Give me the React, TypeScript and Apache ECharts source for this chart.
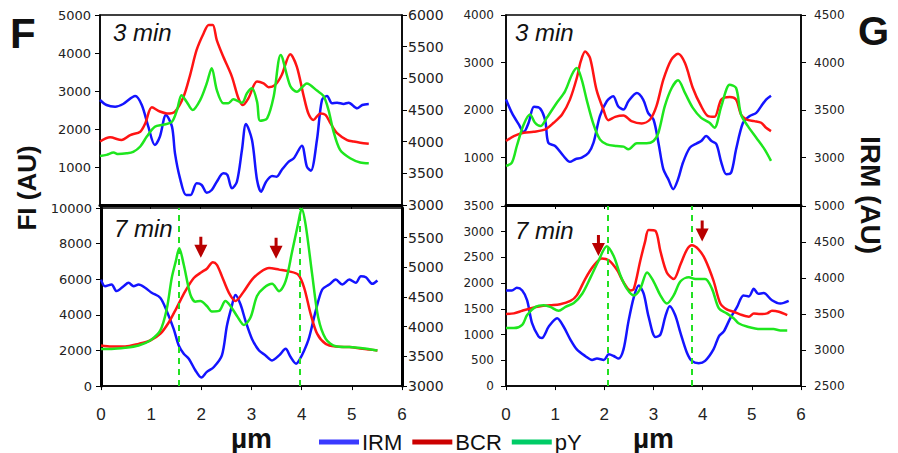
import React, { useEffect, useRef } from "react";
import * as echarts from "echarts";

// ---------- data (x in µm, y in AU) ----------
// Panel F, 3 min
const fTopBcr = [[0,1670],[0.2,1780],[0.43,1710],[0.6,1840],[0.8,1930],[0.9,2150],[1.03,2570],[1.19,2460],[1.33,2410],[1.49,2460],[1.66,2850],[1.79,3420],[1.92,4080],[2.06,4520],[2.16,4740],[2.24,4740],[2.32,4340],[2.45,3900],[2.62,3380],[2.75,2810],[2.84,2630],[2.95,2810],[3.12,3250],[3.25,3200],[3.35,3100],[3.48,3160],[3.61,3420],[3.78,3970],[3.91,3640],[4.05,2850],[4.14,2410],[4.24,2240],[4.38,2410],[4.48,2370],[4.58,2150],[4.71,1890],[4.91,1710],[5.04,1670],[5.17,1640],[5.34,1610]];
const fTopPy = [[0,1290],[0.13,1320],[0.27,1380],[0.36,1340],[0.53,1360],[0.66,1400],[0.8,1540],[0.93,1800],[1.09,2060],[1.26,2110],[1.43,2190],[1.53,2500],[1.62,2890],[1.72,2720],[1.84,2500],[1.99,2760],[2.12,3200],[2.22,3600],[2.32,3030],[2.45,2680],[2.55,2680],[2.65,2780],[2.82,2690],[2.92,2940],[3.02,3070],[3.12,2720],[3.18,2220],[3.32,2280],[3.45,2850],[3.59,3950],[3.78,3130],[3.91,2980],[4.11,3200],[4.31,3010],[4.44,2870],[4.54,2500],[4.64,1930],[4.77,1450],[4.97,1230],[5.17,1120],[5.34,1100]];
const fTopIrm = [[0,4658],[0.13,4579],[0.3,4553],[0.46,4595],[0.7,4721],[0.83,4579],[0.96,4237],[1.09,3947],[1.19,4079],[1.31,4421],[1.43,4237],[1.49,3816],[1.59,3421],[1.71,3158],[1.8,3158],[1.92,3342],[2.02,3316],[2.12,3195],[2.22,3237],[2.32,3368],[2.45,3500],[2.53,3474],[2.62,3263],[2.72,3368],[2.82,3868],[2.9,4279],[3.02,4026],[3.12,3395],[3.2,3210],[3.3,3368],[3.42,3458],[3.51,3447],[3.61,3553],[3.75,3684],[3.85,3737],[4.01,3937],[4.11,3605],[4.19,3542],[4.31,4026],[4.41,4658],[4.51,4721],[4.61,4605],[4.71,4616],[4.84,4595],[4.94,4616],[5.11,4526],[5.21,4579],[5.34,4595]];

// Panel F, 7 min
const fBotBcr = [[0,2280],[0.21,2220],[0.48,2220],[0.75,2370],[0.98,2560],[1.18,2930],[1.35,3570],[1.51,4410],[1.68,5330],[1.85,6070],[2.01,6410],[2.11,6590],[2.23,6960],[2.31,6810],[2.41,6170],[2.55,5240],[2.68,4780],[2.85,5330],[3.01,5980],[3.18,6410],[3.35,6630],[3.55,6540],[3.75,6440],[3.93,6260],[4.05,5520],[4.18,4040],[4.31,2930],[4.48,2370],[4.68,2220],[4.95,2190],[5.21,2090],[5.51,2000]];
const fBotPy = [[0,2090],[0.21,2090],[0.48,2150],[0.75,2280],[0.98,2560],[1.18,3110],[1.31,4310],[1.41,6070],[1.49,7000],[1.56,7740],[1.65,6810],[1.78,5150],[1.88,4740],[1.98,4780],[2.11,4500],[2.21,4190],[2.35,4220],[2.48,4780],[2.58,4500],[2.71,3940],[2.85,3430],[2.98,3850],[3.11,5060],[3.25,5520],[3.41,5740],[3.55,5330],[3.68,5890],[3.81,7560],[3.93,9130],[4.0,9960],[4.08,9040],[4.21,6260],[4.33,3850],[4.48,2650],[4.68,2240],[4.95,2190],[5.21,2130],[5.51,2000]];
const fBotIrm = [[0,4794],[0.08,4683],[0.21,4711],[0.31,4600],[0.45,4683],[0.55,4739],[0.65,4683],[0.75,4711],[0.88,4656],[1.01,4572],[1.18,4489],[1.31,4267],[1.45,3961],[1.55,3683],[1.65,3544],[1.75,3461],[1.88,3267],[2.0,3144],[2.11,3239],[2.25,3322],[2.41,3517],[2.51,4017],[2.6,4322],[2.68,4533],[2.78,4378],[2.88,4100],[3.01,3794],[3.15,3600],[3.28,3517],[3.41,3433],[3.55,3517],[3.68,3628],[3.78,3489],[3.89,3378],[3.95,3433],[4.05,3600],[4.15,3822],[4.28,4267],[4.41,4628],[4.55,4711],[4.68,4794],[4.81,4711],[4.95,4794],[5.08,4739],[5.18,4850],[5.28,4833],[5.41,4722],[5.51,4778]];

// Panel G, 3 min
const gTopBcr = [[0,1347],[0.16,1451],[0.36,1521],[0.56,1542],[0.8,1591],[0.97,1731],[1.14,1905],[1.3,2219],[1.44,2673],[1.52,3022],[1.61,3231],[1.71,3091],[1.84,2428],[1.98,2010],[2.08,1786],[2.22,1856],[2.39,1884],[2.55,1766],[2.76,1717],[2.93,1800],[3.06,2080],[3.2,2638],[3.36,3057],[3.5,3182],[3.64,2987],[3.8,2463],[3.97,2080],[4.11,1870],[4.24,1856],[4.38,2219],[4.55,2275],[4.68,2219],[4.78,1905],[4.89,1800],[5.05,1766],[5.19,1731],[5.29,1626],[5.39,1556]];
const gTopPy = [[0,823],[0.12,893],[0.22,1242],[0.36,1696],[0.49,1905],[0.59,1731],[0.7,1661],[0.83,1835],[1.03,2149],[1.2,2394],[1.34,2743],[1.44,2882],[1.54,2638],[1.64,2219],[1.78,1696],[1.91,1382],[2.05,1277],[2.25,1242],[2.39,1228],[2.49,1172],[2.66,1298],[2.86,1298],[3.0,1347],[3.1,1521],[3.23,2080],[3.37,2463],[3.5,2624],[3.64,2359],[3.8,2045],[3.97,1835],[4.14,1731],[4.24,1626],[4.38,2080],[4.55,2533],[4.68,2463],[4.78,1905],[4.92,1661],[5.09,1417],[5.26,1172],[5.39,928]];
const gTopIrm = [[0,3610],[0.12,3470],[0.26,3348],[0.36,3268],[0.46,3365],[0.57,3533],[0.7,3512],[0.8,3383],[0.86,3156],[1.0,3121],[1.17,3016],[1.3,2954],[1.41,2982],[1.54,2999],[1.68,3051],[1.78,3156],[1.91,3435],[2.05,3592],[2.18,3645],[2.28,3540],[2.39,3505],[2.49,3592],[2.66,3679],[2.79,3610],[2.89,3470],[3.0,3400],[3.1,3156],[3.2,2877],[3.3,2772],[3.4,2667],[3.5,2772],[3.6,2947],[3.74,3104],[3.88,3149],[3.97,3173],[4.07,3226],[4.18,3173],[4.28,3139],[4.38,2947],[4.48,2824],[4.58,2842],[4.68,3086],[4.82,3365],[4.95,3435],[5.09,3470],[5.19,3540],[5.29,3610],[5.39,3651]];

// Panel G, 7 min
const gBotBcr = [[0,1400],[0.16,1413],[0.33,1464],[0.49,1509],[0.7,1553],[0.9,1572],[1.1,1591],[1.31,1655],[1.44,1763],[1.61,2081],[1.78,2336],[1.95,2482],[2.09,2444],[2.26,2253],[2.39,2018],[2.53,1859],[2.6,1890],[2.73,2432],[2.83,2813],[2.9,3036],[3.04,3017],[3.14,2623],[3.27,2209],[3.41,2081],[3.55,2368],[3.68,2654],[3.78,2737],[3.92,2654],[4.05,2463],[4.22,2050],[4.36,1604],[4.49,1490],[4.63,1445],[4.8,1381],[4.94,1350],[5.04,1413],[5.17,1400],[5.31,1413],[5.41,1464],[5.55,1445],[5.72,1381]];
const gBotPy = [[0,1127],[0.16,1127],[0.33,1190],[0.43,1381],[0.6,1540],[0.77,1572],[0.9,1540],[1.07,1464],[1.21,1540],[1.38,1617],[1.55,1795],[1.72,2113],[1.88,2432],[2.05,2718],[2.19,2527],[2.33,2145],[2.46,1890],[2.6,1763],[2.73,1890],[2.87,2209],[3.0,2037],[3.14,1763],[3.27,1604],[3.41,1763],[3.55,2037],[3.72,2113],[3.85,2081],[4.05,2081],[4.19,1890],[4.33,1509],[4.49,1413],[4.63,1318],[4.73,1222],[4.9,1158],[5.17,1108],[5.44,1108],[5.58,1082],[5.72,1082]];
const gBotIrm = [[0,3827],[0.12,3827],[0.22,3864],[0.33,3827],[0.43,3691],[0.53,3373],[0.66,3191],[0.73,3168],[0.87,3327],[1.04,3441],[1.17,3327],[1.31,3145],[1.44,3009],[1.61,2918],[1.75,2864],[1.85,2882],[1.99,2864],[2.09,2941],[2.19,2918],[2.29,2882],[2.39,3009],[2.49,3395],[2.6,3736],[2.7,3895],[2.8,3782],[2.9,3464],[3.04,3182],[3.14,3214],[3.24,3464],[3.33,3609],[3.44,3486],[3.55,3236],[3.68,2964],[3.78,2850],[3.92,2818],[4.05,2850],[4.22,3009],[4.33,3191],[4.43,3259],[4.56,3441],[4.7,3600],[4.83,3759],[4.94,3745],[5.04,3850],[5.13,3782],[5.24,3791],[5.41,3691],[5.58,3645],[5.75,3682]];

// annotations
const fDashX = [1.55, 3.97];
const gDashX = [2.06, 3.78];
const fArrows = [[1.99, 7200], [3.49, 7150]];
const gArrows = [[1.88, 2530], [3.99, 2810]];

const seriesNames = ["IRM", "BCR", "pY"];
const panelLabels = ["3 min", "7 min", "3 min", "7 min"];

// left / right y ranges per panel: [min, max, interval]
const leftRanges = [[0, 5000, 1000], [0, 10000, 2000], [0, 4000, 1000], [0, 3500, 500]];
const rightRanges = [[3000, 6000, 500], [3000, 6000, 500], [2500, 4500, 500], [2500, 5000, 500]];

const C_IRM = "#1414ff";
const C_BCR = "#ff1414";
const C_PY = "#1ee61e";
const ARROW = "path://M5,0 L8,0 L8,8 L13,8 L6.5,21 L0,8 L5,8 Z";
const plain = (v: number) => String(v);

export default function App() {
  const ref = useRef<HTMLDivElement>(null);
  useEffect(() => {
    const chart = echarts.init(ref.current!, null, { renderer: "svg" });
    const grids = [
      { left: 100, top: 15, width: 302, height: 190 },
      { left: 101, top: 208, width: 301, height: 180 },
      { left: 506, top: 15, width: 295, height: 190 },
      { left: 506, top: 206, width: 295, height: 183 },
    ];
    const isBottom = [false, true, false, true];
    const isF = [true, true, false, false];

    const xAxis = grids.map((_, i) => ({
      type: "value",
      gridIndex: i,
      min: 0,
      max: 6,
      interval: 1,
      splitLine: { show: false },
      axisLine: { onZero: false, lineStyle: { color: "#000", width: isBottom[i] ? 1.5 : 3 } },
      axisTick: { show: true, length: 4, lineStyle: { color: "#000", width: 1 } },
      axisLabel: {
        show: isBottom[i],
        fontSize: 17,
        color: "#222",
        margin: 20,
        formatter: plain,
        fontFamily: "Liberation Sans, Arial, sans-serif",
      },
      name: isBottom[i] ? "µm" : "",
      nameLocation: "middle",
      nameGap: 36,
      nameTextStyle: { fontSize: 28, fontWeight: "bold", color: "#111", fontFamily: "Liberation Sans, Arial, sans-serif" },
    }));

    const yAxis: any[] = [];
    grids.forEach((_, i) => {
      const [lmin, lmax, lint] = leftRanges[i];
      const [rmin, rmax, rint] = rightRanges[i];
      const thick = i === 1 ? 3 : 1.5;
      yAxis.push({
        type: "value",
        gridIndex: i,
        position: "left",
        min: lmin,
        max: lmax,
        interval: lint,
        splitLine: { show: false },
        axisLine: { show: true, onZero: false, lineStyle: { color: "#000", width: thick } },
        axisTick: { show: true, length: 5, lineStyle: { color: "#000" } },
        axisLabel: {
          fontSize: isF[i] ? 13 : 12,
          color: "#222",
          margin: isF[i] ? 9 : 12,
          formatter: plain,
          fontFamily: "DejaVu Sans, sans-serif",
          showMinLabel: isBottom[i],
        },
      });
      yAxis.push({
        type: "value",
        gridIndex: i,
        position: "right",
        min: rmin,
        max: rmax,
        interval: rint,
        splitLine: { show: false },
        axisLine: { show: true, onZero: false, lineStyle: { color: "#000", width: thick } },
        axisTick: { show: true, length: 5, lineStyle: { color: "#000" } },
        axisLabel: {
          fontSize: isF[i] ? 14 : 12,
          color: "#222",
          margin: isF[i] ? 6 : 13,
          formatter: plain,
          fontFamily: "DejaVu Sans, sans-serif",
          showMinLabel: i === 0 || i === 1 || i === 3,
          showMaxLabel: i !== 1,
        },
      });
    });

    const panelData = [
      [fTopIrm, fTopBcr, fTopPy],
      [fBotIrm, fBotBcr, fBotPy],
      [gTopIrm, gTopBcr, gTopPy],
      [gBotIrm, gBotBcr, gBotPy],
    ];
    const colors = [C_IRM, C_BCR, C_PY];
    const series: any[] = [];
    panelData.forEach((sets, i) => {
      sets.forEach((data, k) => {
        const s: any = {
          type: "line",
          name: seriesNames[k],
          xAxisIndex: i,
          yAxisIndex: k === 0 ? 2 * i + 1 : 2 * i,
          data,
          symbol: "none",
          smooth: 0.3,
          color: colors[k],
          lineStyle: { width: 2.5, color: colors[k] },
          z: k === 0 ? 3 : k === 1 ? 4 : 5,
        };
        if (isBottom[i] && k === 2) {
          const dash = isF[i] ? fDashX : gDashX;
          const arrows = isF[i] ? fArrows : gArrows;
          s.markLine = {
            silent: true,
            symbol: "none",
            label: { show: false },
            lineStyle: { type: [6, 5], color: "#22e022", width: 2 },
            data: dash.map((v) => ({ xAxis: v })),
          };
          s.markPoint = {
            silent: true,
            symbol: ARROW,
            symbolSize: [13, 21],
            symbolOffset: [0, "-50%"],
            itemStyle: { color: "#b80000" },
            label: { show: false },
            data: arrows.map((c) => ({ coord: c })),
          };
        }
        series.push(s);
      });
    });

    const textPos = [
      [113, 32],
      [114, 228],
      [515, 32],
      [515, 230],
    ];

    const option: any = {
      animation: false,
      backgroundColor: "#fff",
      grid: grids.map((g) => ({ ...g, show: true, borderColor: "#000", borderWidth: 1.5, backgroundColor: "transparent" })),
      xAxis,
      yAxis,
      series,
      legend: {
        left: 314,
        top: 426,
        itemWidth: 40,
        itemHeight: 5,
        itemGap: 10,
        icon: "rect",
        textStyle: { fontSize: 22, color: "#111", fontFamily: "Liberation Sans, Arial, sans-serif", padding: [0, 0, 0, -2] },
        data: [
          { name: "IRM", itemStyle: { color: "#3a3aff" } },
          { name: "BCR", itemStyle: { color: "#cc0000" } },
          { name: "pY", itemStyle: { color: "#00cc66" } },
        ],
      },
      graphic: [
        {
          type: "text",
          left: 10,
          top: 12,
          style: { text: "F", fontSize: 42, fontWeight: "bold", fill: "#111", fontFamily: "Liberation Sans, Arial, sans-serif" },
        },
        {
          type: "text",
          left: 858,
          top: 11,
          style: { text: "G", fontSize: 40, fontWeight: "bold", fill: "#111", fontFamily: "Liberation Sans, Arial, sans-serif" },
        },
        {
          type: "text",
          x: 27,
          y: 188,
          rotation: Math.PI / 2,
          style: {
            text: "FI (AU)",
            fontSize: 26,
            fontWeight: "bold",
            fill: "#111",
            align: "center",
            verticalAlign: "middle",
            fontFamily: "Liberation Sans, Arial, sans-serif",
          },
        },
        {
          type: "text",
          x: 870,
          y: 195,
          rotation: -Math.PI / 2,
          style: {
            text: "IRM (AU)",
            fontSize: 28,
            fontWeight: "bold",
            fill: "#111",
            align: "center",
            verticalAlign: "middle",
            fontFamily: "Liberation Sans, Arial, sans-serif",
          },
        },
        ...panelLabels.map((t, i) => ({
          type: "text",
          x: textPos[i][0],
          y: textPos[i][1],
          style: {
            text: t,
            fontSize: 24,
            fontStyle: "italic",
            fill: "#111",
            align: "left",
            verticalAlign: "middle",
            fontFamily: "Liberation Sans, Arial, sans-serif",
          },
        })),
      ],
    };
    chart.setOption(option);
    return () => chart.dispose();
  }, []);
  return <div ref={ref} style={{ position: "absolute", left: 0, top: 0, width: 898, height: 453 }} />;
}
